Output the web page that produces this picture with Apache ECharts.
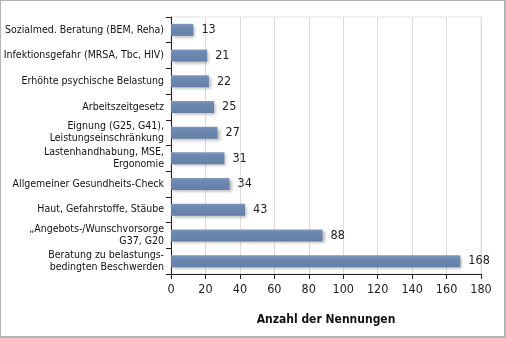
<!DOCTYPE html>
<html><head><meta charset="utf-8">
<script src="https://cdn.jsdelivr.net/npm/echarts@6/dist/echarts.min.js"></script>
<style>
html,body{margin:0;padding:0;background:#fff;}
#c{width:506px;height:338px;box-sizing:border-box;border:1px solid #b4b4b4;border-right-width:2px;border-bottom-width:2px;}
</style></head>
<body><div id="c"></div>
<script>
const categories = [
  'Sozialmed. Beratung (BEM, Reha)',
  'Infektionsgefahr (MRSA, Tbc, HIV)',
  'Erhöhte psychische Belastung',
  'Arbeitszeitgesetz',
  'Eignung (G25, G41),\nLeistungseinschränkung',
  'Lastenhandhabung, MSE,\nErgonomie',
  'Allgemeiner Gesundheits-Check',
  'Haut, Gefahrstoffe, Stäube',
  '„Angebots-/Wunschvorsorge\nG37, G20',
  'Beratung zu belastungs-\nbedingten Beschwerden'
];
const values = [13, 21, 22, 25, 27, 31, 34, 43, 88, 168];
const axisTitle = 'Anzahl der Nennungen';
const FONT = '"Liberation Sans Narrow", "DejaVu Sans Condensed", "Liberation Sans", sans-serif';

const chart = echarts.init(document.getElementById('c'), null, {renderer: 'canvas'});
chart.setOption({
  animation: false,
  textStyle: {fontFamily: FONT},
  grid: {left: 170, right: 23, top: 16, bottom: 62, containLabel: false, outerBoundsMode: 'none',
         show: true, borderColor: '#e0e0e0', borderWidth: 1},
  xAxis: {
    type: 'value', min: 0, max: 180, interval: 20,
    name: axisTitle, nameLocation: 'middle', nameGap: 40,
    nameTextStyle: {fontFamily: FONT, fontWeight: 'bold', fontSize: 12, color: '#111'},
    axisLine: {show: true, lineStyle: {color: '#222', width: 1}},
    axisTick: {show: true, length: 5, lineStyle: {color: '#222'}},
    axisLabel: {fontFamily: FONT, fontSize: 12.5, color: '#222', margin: 9},
    splitLine: {show: true, lineStyle: {color: '#dcdcdc', width: 1}}
  },
  yAxis: {
    type: 'category', data: categories, inverse: true,
    axisLine: {show: true, lineStyle: {color: '#222', width: 1}},
    axisTick: {show: true, length: 5, alignWithLabel: false, lineStyle: {color: '#222'}},
    axisLabel: {fontFamily: FONT, fontSize: 10.5, color: '#111', margin: 7, lineHeight: 12, align: 'right',
                interval: 0, hideOverlap: false}
  },
  series: [{
    type: 'bar', data: values, barWidth: 12,
    itemStyle: {
      color: new echarts.graphic.LinearGradient(0, 0, 0, 1, [
        {offset: 0, color: '#7f98bd'}, {offset: 0.25, color: '#6d89b1'}, {offset: 1, color: '#6580a8'}
      ]),
      shadowColor: 'rgba(0,0,0,0.28)', shadowBlur: 3, shadowOffsetX: 2, shadowOffsetY: 2
    },
    label: {show: true, position: 'right', distance: 8, fontFamily: FONT, fontSize: 12.5, color: '#222'}
  }]
});
</script></body></html>
